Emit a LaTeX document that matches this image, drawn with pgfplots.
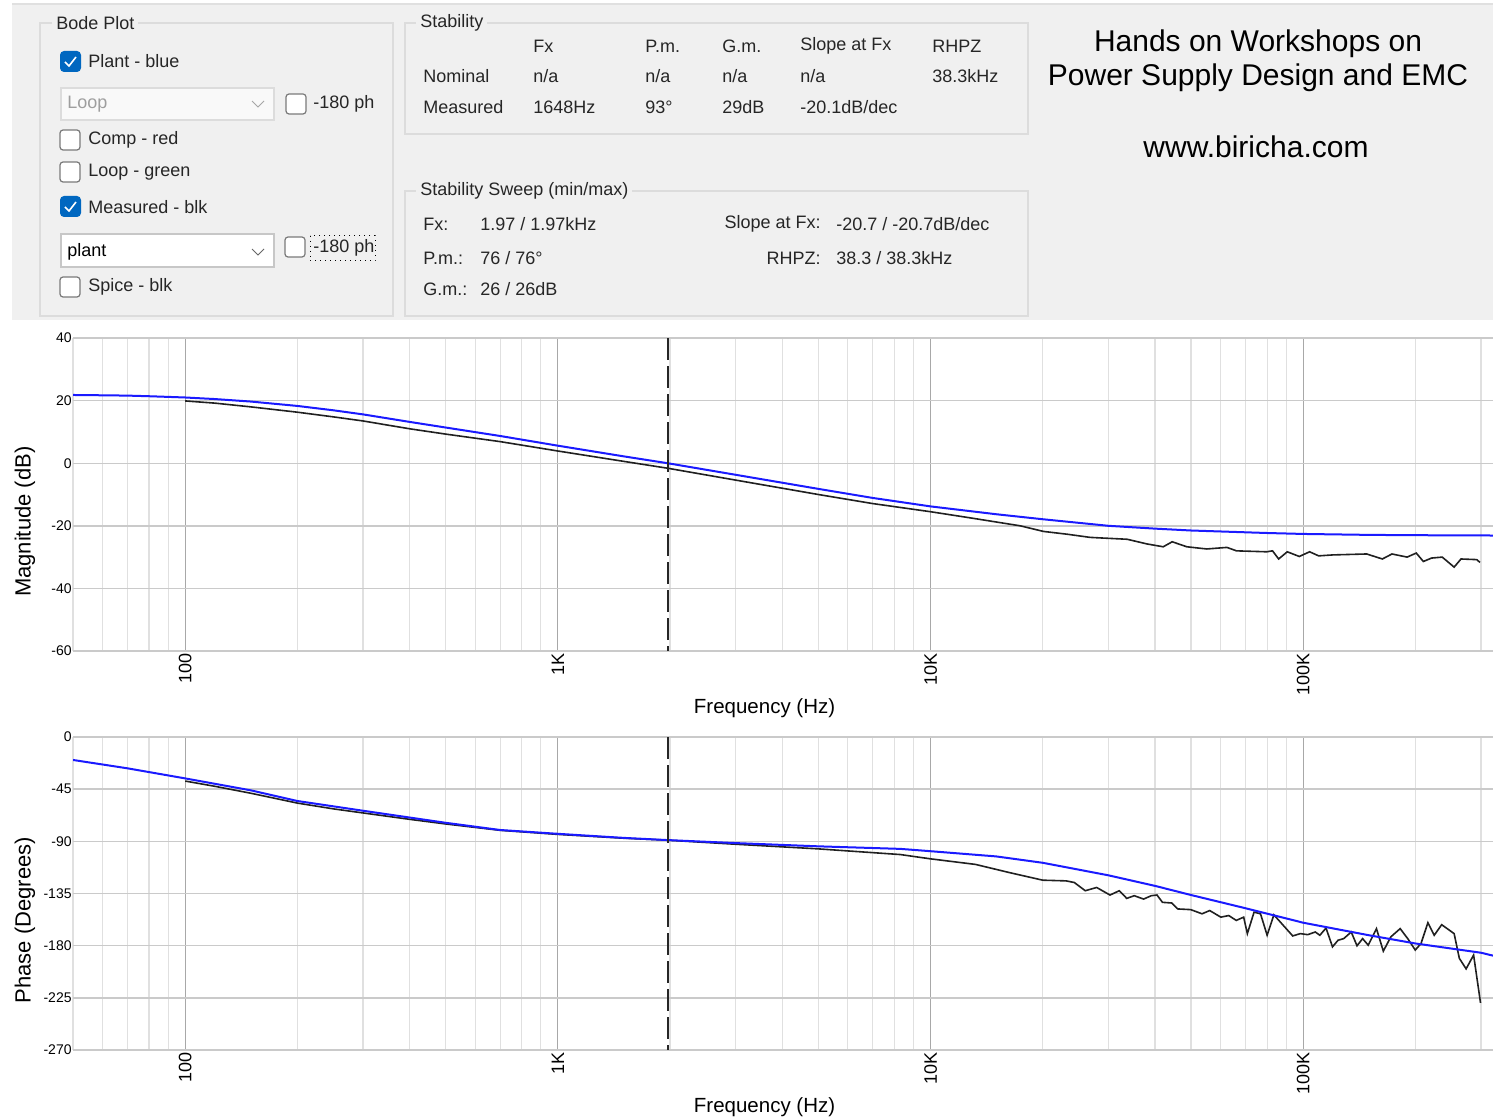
\documentclass[border=0pt]{standalone}
\usepackage{pgfplots}
\pgfplotsset{compat=1.18}
\usepackage{fontspec}
\setmainfont{Liberation Sans}
\definecolor{panel}{HTML}{F0F0F0}
\definecolor{frame}{HTML}{DCDCDC}
\definecolor{chk}{HTML}{0067C0}
\definecolor{boxb}{HTML}{7A7A7A}
\definecolor{majg}{HTML}{A8A8A8}
\definecolor{ming}{HTML}{E0E0E0}
\definecolor{hg}{HTML}{CACACA}
\definecolor{plantblue}{HTML}{1A1AFF}
\definecolor{meas}{HTML}{202020}

\newcommand\cbox[2]{\draw[boxb, rounded corners=1.5pt, line width=0.6pt, fill=white] (#1,#2) rectangle ++(20,20);}
\newcommand\cboxon[2]{\fill[chk, rounded corners=2pt] (#1,#2) rectangle ++(21,21);
  \draw[white, line width=0.8pt] (#1+5,#2+11) -- (#1+9,#2+15) -- (#1+16,#2+6);}

\begin{document}
\begin{tikzpicture}
\path[use as bounding box] (0,0) rectangle (746.5pt,-559pt);
\fill[white] (0,0) rectangle (746.5pt,-559pt);
\begin{scope}[x=0.5pt, y=-0.5pt, gui/.style={font=\fontsize{9}{11}\selectfont, text=black!85, inner sep=0pt, anchor=west}]
  \fill[panel] (12,4) rectangle (1493,320);
  \draw[black!12, line width=0.6pt] (12,4) -- (1493,4);
  % Bode Plot group
  \draw[frame, line width=0.6pt] (40,23) rectangle (393,316);
  \node[gui, fill=panel, inner xsep=2pt, inner ysep=1pt] at (52,23) {Bode Plot};
  \cboxon{60}{51}
  \node[gui] at (88,61) {Plant - blue};
  \draw[fill=white!60!panel, draw=frame, line width=0.6pt] (61,88) rectangle (274,120);
  \node[gui, text=black!38] at (67,104) {Loop};
  \draw[black!35, line width=0.5pt] (252,101) -- (258,107) -- (264,101);
  \cbox{286}{94}
  \node[gui] at (313,104) {-180 ph};
  \cbox{60}{130}
  \node[gui] at (88,140) {Comp - red};
  \cbox{60}{162}
  \node[gui] at (88,172) {Loop - green};
  \cboxon{60}{196}
  \node[gui] at (88,207) {Measured - blk};
  \draw[fill=white, draw=black!22, line width=0.6pt] (61,234) rectangle (274,267);
  \node[gui, text=black] at (67,252) {plant};
  \draw[black!60, line width=0.5pt] (252,249) -- (258,255) -- (264,249);
  \cbox{285}{237}
  \draw[black, dotted, line width=0.5pt] (310,236) rectangle (375,261);
  \node[gui] at (313,248) {-180 ph};
  \cbox{60}{277}
  \node[gui] at (88,287) {Spice - blk};
  % Stability group
  \draw[frame, line width=0.6pt] (405,23) rectangle (1028,134);
  \node[gui, fill=panel, inner xsep=2pt, inner ysep=1pt] at (416,23) {Stability};
  \node[gui] at (533,46) {Fx};
  \node[gui] at (645,46) {P.m.};
  \node[gui] at (722,46) {G.m.};
  \node[gui] at (800,46) {Slope at Fx};
  \node[gui] at (932,46) {RHPZ};
  \node[gui] at (423,76) {Nominal};
  \node[gui] at (533,76) {n/a};
  \node[gui] at (645,76) {n/a};
  \node[gui] at (722,76) {n/a};
  \node[gui] at (800,76) {n/a};
  \node[gui] at (932,76) {38.3kHz};
  \node[gui] at (423,107) {Measured};
  \node[gui] at (533,107) {1648Hz};
  \node[gui] at (645,107) {93°};
  \node[gui] at (722,107) {29dB};
  \node[gui] at (800,107) {-20.1dB/dec};
  % Stability sweep group
  \draw[frame, line width=0.6pt] (405,191) rectangle (1028,316);
  \node[gui, fill=panel, inner xsep=2pt, inner ysep=1pt] at (416,191) {Stability Sweep (min/max)};
  \node[gui] at (423,224) {Fx:};
  \node[gui] at (480,224) {1.97 / 1.97kHz};
  \node[gui, anchor=east] at (821,224) {Slope at Fx:};
  \node[gui] at (836,224) {-20.7 / -20.7dB/dec};
  \node[gui] at (423,258) {P.m.:};
  \node[gui] at (480,258) {76 / 76°};
  \node[gui, anchor=east] at (821,258) {RHPZ:};
  \node[gui] at (836,258) {38.3 / 38.3kHz};
  \node[gui] at (423,289) {G.m.:};
  \node[gui] at (480,289) {26 / 26dB};
  % advert text
  \node[font=\fontsize{15}{18}\selectfont, inner sep=0pt] at (1258,44) {Hands on Workshops on};
  \node[font=\fontsize{15}{18}\selectfont, inner sep=0pt] at (1258,78) {Power Supply Design and EMC};
  \node[font=\fontsize{15}{18}\selectfont, inner sep=0pt] at (1256,147) {www.biricha.com};
\end{scope}

% Magnitude
\begin{axis}[at={(36.5pt,-325.5pt)}, anchor=south west,
  scale only axis, width=710pt, height=156.5pt,
  xmode=log, xmin=50, xmax=323000,
  xtick={100,1000,10000,100000}, xticklabels={100,1K,10K,100K},
  minor xtick={50,60,70,80,90,200,300,400,500,600,700,800,900,2000,3000,4000,5000,6000,7000,8000,9000,20000,30000,40000,50000,60000,70000,80000,90000,200000,300000},
  xmajorgrids, xminorgrids, ymajorgrids,
  major x grid style={draw=majg, line width=0.6pt},
  minor x grid style={draw=ming, line width=0.6pt},
  major y grid style={draw=hg, line width=0.7pt},
  axis line style={draw=none},
  major tick length=0pt, minor tick length=0pt,
  x tick label style={rotate=90, anchor=east, font=\fontsize{9}{10}\selectfont, inner sep=1pt},
  y tick label style={font=\fontsize{7}{8}\selectfont, inner sep=0.5pt, anchor=east},
  xlabel={Frequency (Hz)},
  xlabel style={at={(axis description cs:0.487,0)}, anchor=center, yshift=-28.5pt, font=\fontsize{10.25}{12}\selectfont},
  ylabel style={at={([xshift=-24pt]axis description cs:0,0.413)}, anchor=center, font=\fontsize{11}{13}\selectfont},
  ymin=-60, ymax=40, ytick={-60,-40,-20,0,20,40}, yticklabels={-60,-40,-20,0,20,40},
  ylabel={Magnitude (dB)}]
\addplot[meas, line width=0.8pt] table {
100 19.9
120 19.2
150 18.0
200 16.3
250 14.8
300 13.5
400 11.0
500 9.3
700 6.9
1000 3.9
1500 0.6
1970 -1.6
3000 -5.4
5000 -10.0
7000 -12.9
10000 -15.5
13000 -17.6
15400 -19.0
17400 -20.0
20100 -21.8
23300 -22.7
26800 -23.7
30000 -24.0
33700 -24.3
38100 -25.8
42100 -26.7
44500 -25.1
48700 -26.7
55100 -27.4
62400 -26.9
66200 -28.0
79800 -28.3
82700 -28.0
85900 -30.6
90600 -28.3
97600 -29.8
104000 -28.3
110000 -29.6
120000 -29.3
148000 -29.0
163000 -30.6
173000 -29.0
190000 -30.0
201000 -28.7
210000 -31.4
221000 -30.3
236000 -30.0
254000 -33.2
265000 -30.6
292000 -30.8
298000 -31.7
};
\addplot[plantblue, line width=1pt] table {
50 21.8
60 21.7
70 21.6
80 21.4
100 21.0
120 20.5
150 19.7
200 18.3
250 16.9
300 15.6
400 13.2
500 11.4
700 8.7
1000 5.6
1500 2.2
1970 0.0
3000 -3.7
5000 -8.2
7000 -11.1
10000 -13.8
15000 -16.3
20000 -17.9
30000 -20.0
40000 -20.9
50000 -21.5
80000 -22.3
100000 -22.6
150000 -22.9
200000 -23.0
323000 -23.1
};
\addplot[black!85, line width=1pt, dash pattern=on 11pt off 3pt] coordinates {(1970,40) (1970,-60)};
\end{axis}

% Phase
\begin{axis}[at={(36.5pt,-525pt)}, anchor=south west,
  scale only axis, width=710pt, height=156.5pt,
  xmode=log, xmin=50, xmax=323000,
  xtick={100,1000,10000,100000}, xticklabels={100,1K,10K,100K},
  minor xtick={50,60,70,80,90,200,300,400,500,600,700,800,900,2000,3000,4000,5000,6000,7000,8000,9000,20000,30000,40000,50000,60000,70000,80000,90000,200000,300000},
  xmajorgrids, xminorgrids, ymajorgrids,
  major x grid style={draw=majg, line width=0.6pt},
  minor x grid style={draw=ming, line width=0.6pt},
  major y grid style={draw=hg, line width=0.7pt},
  axis line style={draw=none},
  major tick length=0pt, minor tick length=0pt,
  x tick label style={rotate=90, anchor=east, font=\fontsize{9}{10}\selectfont, inner sep=1pt},
  y tick label style={font=\fontsize{7}{8}\selectfont, inner sep=0.5pt, anchor=east},
  xlabel={Frequency (Hz)},
  xlabel style={at={(axis description cs:0.487,0)}, anchor=center, yshift=-28.5pt, font=\fontsize{10.25}{12}\selectfont},
  ylabel style={at={([xshift=-24pt]axis description cs:0,0.415)}, anchor=center, font=\fontsize{11}{13}\selectfont},
  ymin=-270, ymax=0, ytick={-270,-225,-180,-135,-90,-45,0}, yticklabels={-270,-225,-180,-135,-90,-45,0},
  ylabel={Phase (Degrees)}]
\addplot[meas, line width=0.8pt] table {
100 -38.0
120 -42.5
150 -48.5
200 -57.0
250 -62.0
300 -65.5
400 -71.0
500 -75.0
700 -80.5
1000 -84.0
1500 -87.3
1970 -89.0
3000 -92.5
5000 -96.5
8300 -101.4
10000 -105.1
13200 -109.9
16300 -117.0
20000 -123.5
23100 -124.1
24300 -125.5
26000 -132.6
27900 -129.8
30300 -136.3
32100 -132.6
33600 -139.2
35200 -136.9
37300 -139.8
39100 -136.9
40500 -136.3
41900 -142.6
44400 -143.2
46000 -148.3
49900 -148.9
53500 -152.5
56100 -149.7
60100 -155.4
63100 -154.0
66100 -158.2
69200 -155.4
70800 -169.6
73800 -151.1
76800 -152.5
80000 -171.0
83400 -153.4
93700 -171.6
98200 -169.6
102800 -170.5
107700 -168.2
110800 -171.0
115100 -164.8
119800 -181.0
124000 -175.3
128400 -173.9
134500 -168.2
139400 -180.1
144300 -173.9
149400 -179.6
157200 -165.3
164000 -184.7
171800 -172.4
182000 -165.3
190700 -173.9
199800 -183.8
207000 -178.1
216000 -160.2
224600 -171.0
235200 -161.9
254000 -169.6
262300 -190.9
273500 -200.0
286500 -188.1
299000 -229.3
};
\addplot[plantblue, line width=1pt] table {
50 -19.8
70 -27.0
100 -35.7
150 -46.0
200 -55.2
300 -63.6
500 -74.0
700 -80.2
1000 -83.5
1500 -87.0
1970 -88.9
3000 -91.5
5000 -94.3
8300 -96.5
10000 -98.5
15000 -103.0
20000 -108.5
30000 -119.3
40000 -128.4
50000 -136.3
70000 -147.7
100000 -160.2
150000 -171.0
200000 -178.1
300000 -186.1
323000 -188.6
};
\addplot[black!85, line width=1pt, dash pattern=on 11pt off 3pt] coordinates {(1970,0) (1970,-270)};
\end{axis}
\end{tikzpicture}
\end{document}
